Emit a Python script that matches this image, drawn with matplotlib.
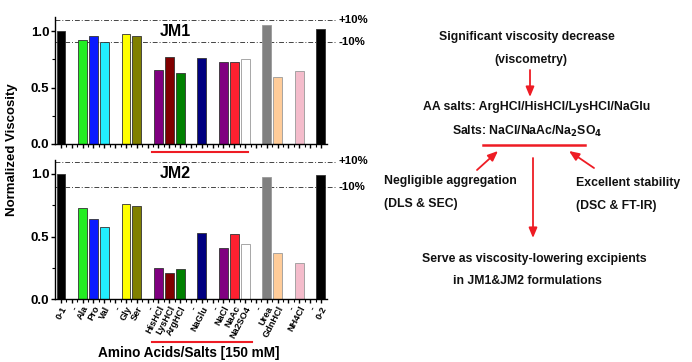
import matplotlib
matplotlib.use("Agg")
import matplotlib.pyplot as plt
import numpy as np
from matplotlib.lines import Line2D
from matplotlib.ticker import MultipleLocator

plt.rcParams['font.family'] = ['Liberation Sans', 'DejaVu Sans']
plt.rcParams['font.weight'] = 'bold'

# categories along the x axis ("-" marks an empty slot)
labels = ['0-1', '-', 'Ala', 'Pro', 'Val', '-', 'Gly', 'Ser', '-',
          'HisHCl', 'LysHCl', 'ArgHCl', '-', 'NaGlu', '-',
          'NaCl', 'NaAc', 'Na2SO4', '-', 'Urea', 'GdnHCl', '-', 'NH4Cl', '-', '0-2']

# normalized viscosity, None for empty slots
jm1 = [1.00, None, 0.92, 0.96, 0.90, None, 0.976, 0.953, None,
       0.655, 0.77, 0.628, None, 0.76, None,
       0.73, 0.725, 0.75, None, 1.05, 0.593, None, 0.649, None, 1.018]
jm2 = [1.00, None, 0.728, 0.64, 0.579, None, 0.757, 0.744, None,
       0.245, 0.21, 0.237, None, 0.528, None,
       0.41, 0.517, 0.437, None, 0.979, 0.368, None, 0.285, None, 0.995]

colors = ['black', None, '#22ee22', '#0a1aff', '#22eeff', None, '#ffff00', '#808000', None,
          '#800080', '#800000', '#008000', None, '#000080', None,
          '#800080', '#ff2030', 'white', None, '#808080', '#ffcc99', None, '#f4bccb', None, 'black']

W, H = 692, 362
fig = plt.figure(figsize=(W / 100, H / 100), dpi=100)


def fx(px):
    return px / W


def fy(py):
    return 1 - py / H


ax1 = fig.add_axes([fx(55), fy(144), fx(327) - fx(55), fy(17) - fy(144)])
ax2 = fig.add_axes([fx(55), fy(299), fx(327) - fx(55), fy(160) - fy(299)])

x = np.arange(len(labels))
for ax, vals, name, ytop in [(ax1, jm1, 'JM1', 1.125), (ax2, jm2, 'JM2', 1.112)]:
    for i, v in enumerate(vals):
        if v is None:
            continue
        ec = '#999999' if colors[i] in ('white', '#ffcc99', '#f4bccb', '#808080') else '#333333'
        ax.bar(x[i], v, width=0.82, color=colors[i], edgecolor=ec, linewidth=0.6, zorder=2)
    ax.set_xlim(-0.55, 24.56)
    ax.set_ylim(0, ytop)
    for s in ['top', 'right']:
        ax.spines[s].set_visible(False)
    ax.spines['left'].set_linewidth(1.0)
    ax.spines['bottom'].set_linewidth(1.0)
    ax.yaxis.set_major_locator(MultipleLocator(0.5))
    ax.yaxis.set_minor_locator(MultipleLocator(0.25))
    ax.tick_params(axis='y', labelsize=9.5, length=3, width=1, pad=1)
    ax.tick_params(axis='y', which='minor', length=2, width=0.8)
    ax.set_xticks(x)
    ax.set_xticks(x[:-1] + 0.5, minor=True)
    ax.tick_params(axis='x', length=3, width=1, pad=1)
    ax.tick_params(axis='x', which='minor', length=2, width=0.8)
    for lvl, txt in [(1.1, '+10%'), (0.9, '-10%')]:
        ax.plot([-0.55, 25.4], [lvl, lvl], color='#444444', lw=0.7,
                ls=(0, (5, 2, 1, 2)), clip_on=False, zorder=1)
        ax.text(25.6, lvl, txt, fontsize=8.2, fontweight='bold', va='center', ha='left')
    ax.text(10.6, 1.0, name, fontsize=11.5, fontweight='bold', ha='center', va='center')
    for t in ax.get_yticklabels():
        t.set_fontweight('bold')

ax1.set_xticklabels([])
ax2.set_xticklabels(labels, rotation=62, ha='right', rotation_mode='anchor',
                    fontsize=6.6, fontweight='bold')

fig.text(fx(12), fy(150), 'Normalized Viscosity', rotation=90, fontsize=9.5,
         fontweight='bold', ha='center', va='center')
fig.text(fx(189), fy(353), 'Amino Acids/Salts [150 mM]', fontsize=9.8,
         fontweight='bold', ha='center', va='center')

red = '#ee1c24'
for y0, x0, x1 in [(152, 152, 248), (342, 152, 252)]:
    fig.add_artist(Line2D([fx(x0), fx(x1)], [fy(y0), fy(y0)], color=red, lw=1.5,
                          transform=fig.transFigure))

# right-hand summary diagram
tc = '#111111'
fs = 8.8
fig.text(fx(527), fy(37), 'Significant viscosity decrease', fontsize=fs, color=tc,
         ha='center', va='center', fontweight='bold')
fig.text(fx(531), fy(60), '(viscometry)', fontsize=fs, color=tc,
         ha='center', va='center', fontweight='bold')
fig.text(fx(537), fy(107), 'AA salts: ArgHCl/HisHCl/LysHCl/NaGlu', fontsize=fs, color=tc,
         ha='center', va='center', fontweight='bold')
fig.text(fx(527), fy(131), r'Salts: NaCl/NaAc/Na$_{\mathrm{2}}$SO$_{\mathrm{4}}$', fontsize=fs,
         color=tc, ha='center', va='center', fontweight='bold')
fig.text(fx(384), fy(181), 'Negligible aggregation', fontsize=fs, color=tc,
         ha='left', va='center', fontweight='bold')
fig.text(fx(384), fy(204), '(DLS & SEC)', fontsize=fs, color=tc,
         ha='left', va='center', fontweight='bold')
fig.text(fx(576), fy(183), 'Excellent stability', fontsize=fs, color=tc,
         ha='left', va='center', fontweight='bold')
fig.text(fx(576), fy(206), '(DSC & FT-IR)', fontsize=fs, color=tc,
         ha='left', va='center', fontweight='bold')
fig.text(fx(534), fy(259), 'Serve as viscosity-lowering excipients', fontsize=fs, color=tc,
         ha='center', va='center', fontweight='bold')
fig.text(fx(527), fy(281), 'in JM1&JM2 formulations', fontsize=fs, color=tc,
         ha='center', va='center', fontweight='bold')

fig.add_artist(Line2D([fx(483), fx(585)], [fy(145), fy(145)], color=red, lw=1.8,
                      transform=fig.transFigure))
arrows = [((530, 70), (530, 97)), ((477, 170), (498, 151)),
          ((594, 168), (569, 151)), ((533, 158), (533, 238))]
for (xa, ya), (xb, yb) in arrows:
    fig.add_artist(plt.Annotation('', xy=(fx(xb), fy(yb)), xytext=(fx(xa), fy(ya)),
                                  xycoords='figure fraction', textcoords='figure fraction',
                                  arrowprops=dict(arrowstyle='-|>,head_length=0.6,head_width=0.25',
                                                  color=red, lw=1.3, shrinkA=0, shrinkB=0)))

fig.savefig('out.png', dpi=100)
